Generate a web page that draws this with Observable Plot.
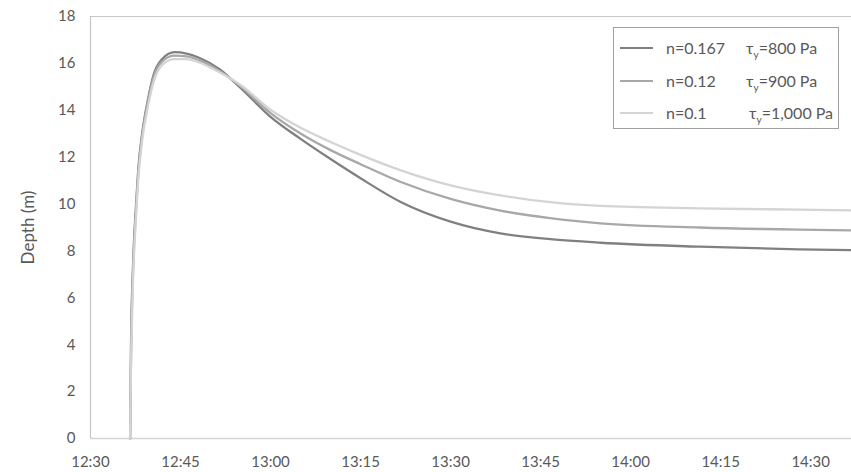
<!DOCTYPE html>
<html>
<head>
<meta charset="utf-8">
<script src="https://cdn.jsdelivr.net/npm/d3@7"></script>
<script src="https://cdn.jsdelivr.net/npm/@observablehq/plot@0.6"></script>
<style>
  body { margin: 0; background: #fff; }
  #wrap { position: relative; width: 851px; height: 472px; font-family: Lato, "Open Sans", sans-serif; color: #595959; }
  #legend { position: absolute; left: 613px; top: 27px; width: 224px; height: 100px; border: 1px solid #a0a0a0; background: #fff; font-size: 16px; }
  .row { position: absolute; left: 0; height: 20px; width: 100%; }
  .sw { position: absolute; left: 6px; top: 9px; width: 33px; height: 0; border-top: 2.5px solid; }
  .n { position: absolute; left: 52px; top: 0; line-height: 20px; }
  .tau { position: absolute; top: 0; line-height: 20px; }
  .tau sub { font-size: 10px; vertical-align: -4px; }
</style>
</head>
<body>
<div id="wrap"></div>
<script>
// Time in minutes after 12:30
const timeMin = [6.6, 6.75, 7.1, 7.6, 8.0, 8.6, 9.6, 10.5, 12, 14, 16, 18, 21.5, 25, 30, 35, 40, 45, 51.6, 60, 68.3, 76.6, 85, 101.5, 118, 127];
// Depth (m) per series
const depthN0167 = [0, 4.0, 7.5, 10.0, 11.6, 13.0, 14.5, 15.5, 16.2, 16.48, 16.42, 16.25, 15.75, 14.95, 13.72, 12.78, 11.92, 11.1, 10.1, 9.25, 8.75, 8.5, 8.35, 8.18, 8.07, 8.03];
const depthN012  = [0, 3.5, 7.2, 9.8, 11.4, 12.9, 14.4, 15.4, 16.1, 16.33, 16.3, 16.15, 15.68, 15.02, 13.88, 13.01, 12.3, 11.7, 10.95, 10.22, 9.72, 9.4, 9.18, 9.0, 8.91, 8.88];
const depthN01   = [0, 3.0, 6.8, 9.5, 11.2, 12.7, 14.2, 15.2, 15.95, 16.18, 16.18, 16.05, 15.62, 15.08, 14.02, 13.25, 12.65, 12.1, 11.45, 10.8, 10.37, 10.08, 9.92, 9.82, 9.76, 9.73];

const seriesN = ["n=0.167", "n=0.12", "n=0.1"];
const seriesTau = ["800 Pa", "900 Pa", "1,000 Pa"];
const seriesColor = ["#808080", "#a8a8a8", "#d4d4d4"];

const xTicks = [0, 15, 30, 45, 60, 75, 90, 105, 120];
const xTickLabels = ["12:30", "12:45", "13:00", "13:15", "13:30", "13:45", "14:00", "14:15", "14:30"];
const yTicks = [0, 2, 4, 6, 8, 10, 12, 14, 16, 18];

const allDepth = [depthN0167, depthN012, depthN01];
const data = [];
allDepth.forEach((arr, s) => arr.forEach((v, i) => data.push({t: timeMin[i], depth: v, series: seriesN[s]})));

const chart = Plot.plot({
  width: 851,
  height: 472,
  marginLeft: 90,
  marginRight: 0,
  marginTop: 16,
  marginBottom: 34,
  style: { fontFamily: "Lato, 'Open Sans', sans-serif", fontSize: "15px", color: "#595959", background: "#fff", overflow: "visible" },
  x: { domain: [0, 126.8] },
  y: { domain: [0, 18] },
  color: { domain: seriesN, range: seriesColor },
  marks: [
    Plot.ruleY([18], { stroke: "#c6c6c6", strokeWidth: 1.2 }),
    Plot.ruleX([0], { stroke: "#c6c6c6", strokeWidth: 1.2 }),
    Plot.ruleY([0], { stroke: "#d4d4d4", strokeWidth: 1.5 }),
    Plot.axisX({ ticks: xTicks, tickFormat: (d) => xTickLabels[xTicks.indexOf(d)], tickSize: 0, tickPadding: 18, label: null, fill: "#595959", fontSize: 15 }),
    Plot.axisY({ ticks: yTicks, tickSize: 0, tickPadding: 15, label: null, fill: "#595959", fontSize: 15 }),
    Plot.axisY({ ticks: [], tickSize: 0, label: "Depth (m)", labelAnchor: "center", labelArrow: "none", labelOffset: 69, fill: "#595959", fontSize: 17 }),
    Plot.line(data, { x: "t", y: "depth", z: "series", stroke: "series", strokeWidth: 2.3, curve: "monotone-x" })
  ]
});

const wrap = document.getElementById("wrap");
wrap.appendChild(chart);

const legend = document.createElement("div");
legend.id = "legend";
const rowTops = [10, 43, 75];
const tauLeft = [132, 132, 135];
seriesN.forEach((name, i) => {
  const row = document.createElement("div");
  row.className = "row";
  row.style.top = rowTops[i] + "px";
  row.innerHTML = `<div class="sw" style="border-color:${seriesColor[i]}"></div><span class="n">${name}</span><span class="tau" style="left:${tauLeft[i]}px">τ<sub>y</sub>=${seriesTau[i]}</span>`;
  legend.appendChild(row);
});
wrap.appendChild(legend);
</script>
</body>
</html>
